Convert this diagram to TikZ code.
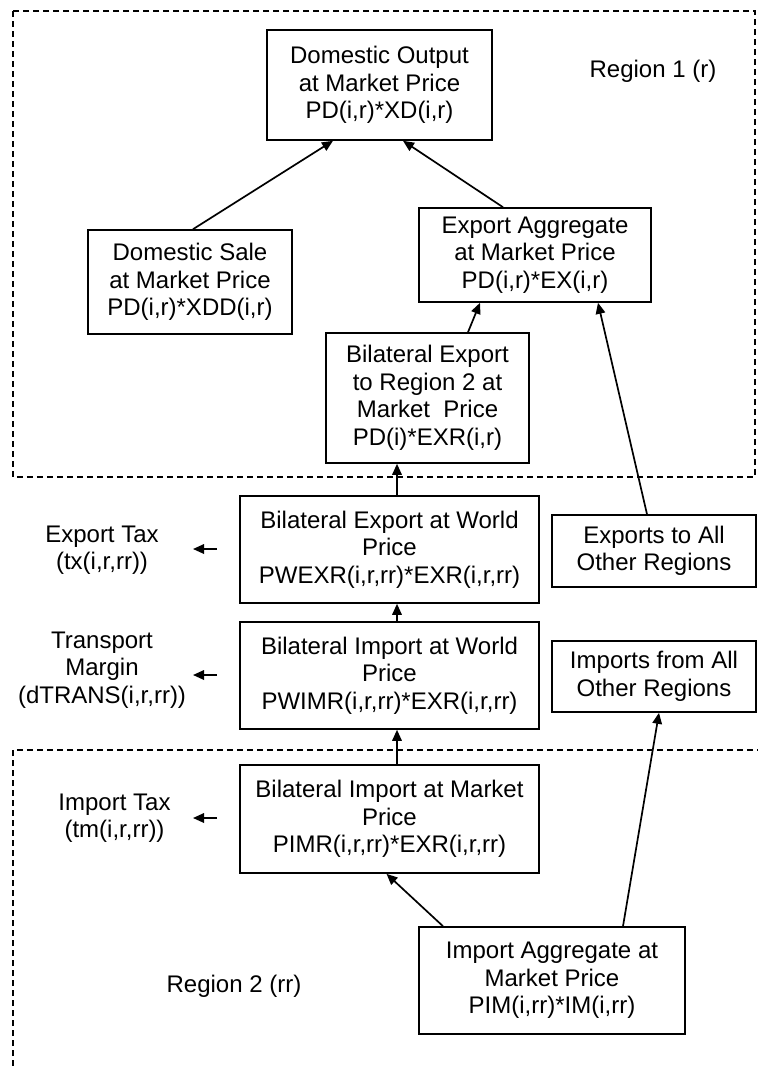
\documentclass[tikz,border=0pt]{standalone}
\usepackage{fontspec}
\setmainfont{Liberation Sans}
\usetikzlibrary{arrows.meta}

\begin{document}
\begin{tikzpicture}[x=1pt,y=-1pt,
  every node/.style={font=\fontsize{24}{27.5}\selectfont},
  blk/.style={draw, line width=1.6pt, inner sep=0pt, align=center},
  txt/.style={inner sep=0pt, align=center},
  arr/.style={line width=1.7pt, -{Triangle[length=11pt,width=9.5pt]}},
  region/.style={dashed, dash pattern=on 6pt off 4pt, line width=1.2pt}]
\useasboundingbox (0,0) rectangle (758,1066);

% region outlines
\draw[region] (13,11) rectangle (755,477);
\draw[region] (13,1066) -- (13,750) -- (758,750);

% region captions
\node[txt] (reg1) at (653,71) {Region 1 (r)};
\node[txt] (reg2) at (234,986) {Region 2 (rr)};

% boxes
\node[blk, minimum width=225pt, minimum height=110pt] (DO) at (379.5,85)
  {Domestic Output\\at Market Price\\PD(i,r)*XD(i,r)};
\node[blk, minimum width=204pt, minimum height=104pt] (DS) at (190,282)
  {Domestic Sale\\at Market Price\\PD(i,r)*XDD(i,r)};
\node[blk, minimum width=232pt, minimum height=94pt] (EA) at (535,255)
  {Export Aggregate\\at Market Price\\PD(i,r)*EX(i,r)};
\node[blk, minimum width=203pt, minimum height=130pt] (BER) at (427.5,398)
  {Bilateral Export\\to Region 2 at\\Market~~Price\\PD(i)*EXR(i,r)};
\node[blk, minimum width=299pt, minimum height=107pt] (BEW) at (389.5,549.5)
  {Bilateral Export at World\\Price\\PWEXR(i,r,rr)*EXR(i,r,rr)};
\node[blk, minimum width=299pt, minimum height=107pt] (BIW) at (389.5,675.5)
  {Bilateral Import at World\\Price\\PWIMR(i,r,rr)*EXR(i,r,rr)};
\node[blk, minimum width=299pt, minimum height=108pt] (BIM) at (389.5,819)
  {Bilateral Import at Market\\Price\\PIMR(i,r,rr)*EXR(i,r,rr)};
\node[blk, minimum width=204pt, minimum height=72pt] (XA) at (654,551)
  {Exports to All\\Other Regions};
\node[blk, minimum width=204pt, minimum height=71pt] (MA) at (654,676.5)
  {Imports from All\\Other Regions};
\node[blk, minimum width=266pt, minimum height=107pt] (IA) at (552,980.5)
  {Import Aggregate at\\Market Price\\PIM(i,rr)*IM(i,rr)};

% side labels
\node[txt] (xtax) at (102,550) {Export Tax\\(tx(i,r,rr))};
\node[txt] (tmar) at (102,670) {Transport\\Margin\\(dTRANS(i,r,rr))};
\node[txt] (mtax) at (114.5,818) {Import Tax\\(tm(i,r,rr))};

% ends of the short side arrows
\coordinate (xs) at (217,549);
\coordinate (xe) at (193,549);
\coordinate (ts) at (217,675);
\coordinate (te) at (193,675);
\coordinate (ms) at (217,818);
\coordinate (me) at (193,818);

% connectors
\draw[arr] ([xshift=3pt]DS.north) -- ([xshift=-46.5pt]DO.south);
\draw[arr] ([xshift=-32pt]EA.north) -- ([xshift=23.5pt]DO.south);
\draw[arr] ([xshift=40.5pt]BER.north) -- ([xshift=-55pt]EA.south);
\draw[arr] ([xshift=-7pt]XA.north) -- ([xshift=63pt]EA.south);
\draw[arr] ([xshift=7.5pt]BEW.north) -- ([xshift=7.5pt]BEW.north |- BER.south);
\draw[arr] ([xshift=7.5pt]BIW.north) -- ([xshift=7.5pt]BIW.north |- BEW.south);
\draw[arr] ([xshift=7.5pt]BIM.north) -- ([xshift=7.5pt]BIM.north |- BIW.south);
\draw[arr] ([xshift=-109pt]IA.north) -- ([xshift=-3pt]BIM.south);
\draw[arr] ([xshift=71pt]IA.north) -- ([xshift=5pt]MA.south);

\draw[arr] (xs) -- (xe);
\draw[arr] (ts) -- (te);
\draw[arr] (ms) -- (me);
\end{tikzpicture}
\end{document}
